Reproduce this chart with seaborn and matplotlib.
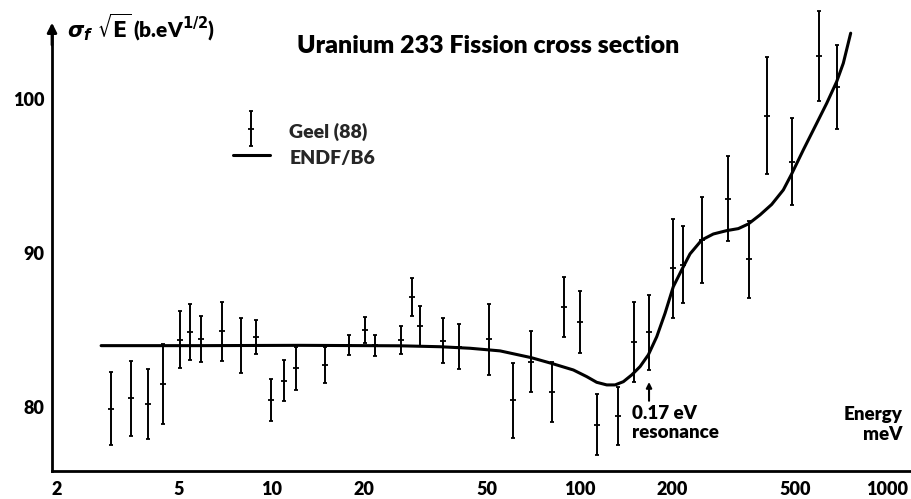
import numpy as np
import pandas as pd
import matplotlib
matplotlib.use("Agg")
import matplotlib.pyplot as plt
import seaborn as sns
from matplotlib.container import ErrorbarContainer
from matplotlib.legend_handler import HandlerErrorbar

# ---- data: Geel (88) measurements (energy meV, sigma_f*sqrt(E), error) ----
geel_energy = [3.00, 3.49, 3.97, 4.42, 5.05, 5.43, 5.91, 6.91, 7.93, 8.89,
               9.95, 10.94, 11.97, 14.90, 17.87, 20.10, 21.61, 26.25, 28.63, 30.33,
               35.94, 40.60, 50.82, 60.67, 69.7, 81.4, 89.3, 100.6, 113.7, 133.1,
               150.4, 168.2, 201.3, 216.5, 250.0, 303.6, 354.5, 406.6, 491.3, 601.3,
               684.6]
geel_value = [79.87, 80.56, 80.18, 81.49, 84.35, 84.87, 84.40, 84.91, 83.98, 84.56,
              80.45, 81.71, 82.51, 82.73, 84.03, 84.98, 84.01, 84.33, 87.14, 85.26,
              84.31, 83.92, 84.40, 80.44, 82.92, 80.97, 86.49, 85.52, 78.85, 79.40,
              84.22, 84.85, 89.00, 89.22, 90.84, 93.53, 89.59, 98.90, 95.93, 102.79,
              100.76]
geel_error = [2.37, 2.45, 2.27, 2.60, 1.85, 1.80, 1.50, 1.90, 1.80, 1.10,
              1.35, 1.35, 1.40, 1.15, 0.65, 0.85, 0.67, 0.90, 1.25, 1.30,
              1.45, 1.47, 2.30, 2.43, 1.98, 1.92, 1.97, 2.00, 1.96, 1.90,
              2.60, 2.45, 3.20, 2.50, 2.80, 2.75, 2.50, 3.80, 2.83, 2.93,
              2.74]

# ---- data: ENDF/B6 evaluation ----
endf_energy = [2.79, 5.85, 12.36, 26.12, 35.23, 44.1, 55.17, 69.7, 81.4, 95.5,
               105.5, 113.7, 122.6, 130.5, 138.8, 147.8, 157.3, 167.3, 178.2, 189.6,
               201.7, 214.8, 228.6, 249.5, 272.1, 300.8, 328.1, 353.5, 385.9, 421.1,
               459.3, 489.0, 533.5, 589.7, 635.6, 684.6, 719.6, 760.4]
endf_value = [83.98, 83.98, 84.0, 83.97, 83.91, 83.81, 83.64, 83.20, 82.82, 82.40,
              81.97, 81.60, 81.43, 81.43, 81.64, 82.08, 82.62, 83.38, 84.56, 86.08,
              87.81, 88.90, 89.94, 90.84, 91.23, 91.45, 91.58, 91.88, 92.47, 93.15,
              94.09, 95.13, 96.69, 98.42, 99.72, 101.12, 102.32, 104.27]

x_ticks = [2, 5, 10, 20, 50, 100, 200, 500, 1000]
x_tick_labels = ["2", "5", "10", "20", "50", "100", "200", "500", "1000"]
y_ticks = [80, 90, 100]
y_tick_labels = ["80", "90", "100"]

title_text = "Uranium 233 Fission cross section"
ylabel_text = r"$\sigma_f\ \sqrt{\mathbf{E}}\,$(b.eV$^{1/2}$)"
xlabel_text = "Energy\nmeV"
resonance_text = "0.17 eV\nresonance"
resonance_energy = 168.2

sns.set_theme(style="white")
plt.rcParams["font.family"] = ["Lato", "DejaVu Sans"]
plt.rcParams["font.weight"] = "bold"
plt.rcParams["mathtext.fontset"] = "dejavusans"

W = "heavy"

fig = plt.figure(figsize=(9.12, 4.99), dpi=100)
ax = fig.add_axes([52 / 912, 28 / 499, 860 / 912, 466 / 499])
ax.set_xscale("log")

geel = pd.DataFrame({"E": geel_energy, "V": geel_value, "err": geel_error})
endf = pd.DataFrame({"E": endf_energy, "V": endf_value})

eb = ax.errorbar(geel["E"], geel["V"], yerr=geel["err"], fmt="_", ms=4,
                 mew=1.3, color="black", ecolor="black", elinewidth=1.4,
                 capsize=1.2, capthick=1.2, label="Geel (88)", zorder=3)
sns.lineplot(data=endf, x="E", y="V", ax=ax, color="black", lw=2.2,
             label="ENDF/B6", sort=True, zorder=4)

ax.set_xlim(1.932, 1203)
ax.set_ylim(75.84, 106.1)
ax.set_xticks(x_ticks)
ax.set_xticklabels(x_tick_labels)
ax.xaxis.set_minor_locator(matplotlib.ticker.NullLocator())
ax.set_yticks(y_ticks)
ax.set_yticklabels(y_tick_labels)
ax.set_xlabel("")
ax.set_ylabel("")
ax.tick_params(axis="both", which="major", direction="inout", length=5,
               width=2, color="black", labelsize=13, labelcolor="black")
ax.tick_params(axis="x", pad=5)
ax.tick_params(axis="y", pad=3)
for lab in ax.get_xticklabels() + ax.get_yticklabels():
    lab.set_fontweight(W)

for side in ["top", "right"]:
    ax.spines[side].set_visible(False)
for side in ["left", "bottom"]:
    ax.spines[side].set_color("black")
    ax.spines[side].set_linewidth(2)
ax.spines["left"].set_bounds(75.84, 104.2)
ax.annotate("", xy=(0, 104.95), xycoords=("axes fraction", "data"),
            xytext=(0, 103.5), textcoords=("axes fraction", "data"),
            arrowprops=dict(arrowstyle="-|>", color="black", lw=2,
                            mutation_scale=14, shrinkA=0, shrinkB=0))

ax.text(0.507, 0.912, title_text, transform=ax.transAxes, ha="center",
        va="center", fontsize=18, fontweight=W, color="black")
ax.text(0.018, 0.952, ylabel_text, transform=ax.transAxes, ha="left",
        va="center", fontsize=15, fontweight=W, color="black")
ax.text(0.9895, 0.10, xlabel_text, transform=ax.transAxes, ha="right",
        va="center", multialignment="right", fontsize=13.5,
        fontweight=W, color="black", linespacing=1.2)
ax.annotate("", xy=(resonance_energy, 81.62), xytext=(resonance_energy, 80.4),
            arrowprops=dict(arrowstyle="-|>", color="black", lw=1.5,
                            mutation_scale=8, shrinkA=0, shrinkB=0))
ax.text(148.1, 78.96, resonance_text, ha="left", va="center", fontsize=13.5,
        fontweight=W, color="black", linespacing=1.1)

handles, labels = ax.get_legend_handles_labels()
order = [labels.index("Geel (88)"), labels.index("ENDF/B6")]
leg = ax.legend([handles[i] for i in order], [labels[i] for i in order],
                loc="upper left", bbox_to_anchor=(0.19, 0.79), frameon=False,
                prop={"weight": W, "size": 14}, handlelength=1.9,
                handleheight=1.3, labelspacing=0.25, handletextpad=1.0,
                handler_map={ErrorbarContainer: HandlerErrorbar(yerr_size=0.9)})

fig.savefig("out.png", dpi=100)
